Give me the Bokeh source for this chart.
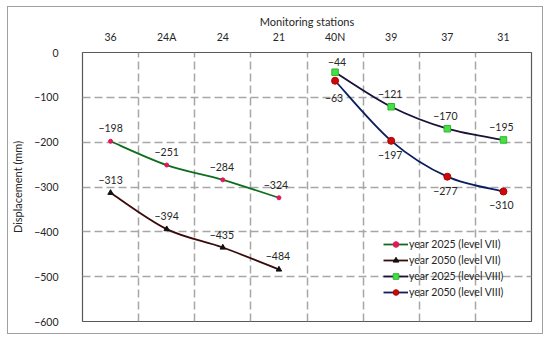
from bokeh.plotting import figure
from bokeh.models import FixedTicker, Range1d, ColumnDataSource, Legend, LegendItem, LabelSet
from bokeh.embed import file_html
from bokeh.resources import INLINE
from bokeh.core.properties import value

# ---- data ----
stations = ["36", "24A", "24", "21", "40N", "39", "37", "31"]
stations_vii = ["36", "24A", "24", "21"]
stations_viii = ["40N", "39", "37", "31"]
y2025_vii = [-198, -251, -284, -324]
y2050_vii = [-313, -394, -435, -484]
y2025_viii = [-44, -121, -170, -195]
y2050_viii = [-63, -197, -277, -310]
y_ticks = [0, -100, -200, -300, -400, -500, -600]

FONT = "Lato"
TXT = "#262626"

p = figure(width=536, height=328, output_backend="svg", toolbar_location=None,
           x_range=Range1d(0, len(stations)), y_range=Range1d(-600, 0),
           x_axis_location="above",
           min_border_left=61, min_border_right=13, min_border_top=45, min_border_bottom=14)
p.styles = {"border": "1px solid #a0a0a0", "margin-left": "7px", "margin-top": "6px"}
p.outline_line_color = "#595959"
p.outline_line_width = 1.2

def xpos(names):
    return [stations.index(n) + 0.5 for n in names]

# axes
xa = p.xaxis[0]
xa.ticker = FixedTicker(ticks=[i + 0.5 for i in range(len(stations))])
xa.major_label_overrides = {i + 0.5: s for i, s in enumerate(stations)}
xa.axis_label = "Monitoring stations"
ya = p.yaxis[0]
ya.ticker = FixedTicker(ticks=y_ticks)
ya.major_label_overrides = {t: (str(t).replace("-", "\u2212")) for t in y_ticks}
ya.axis_label = "Displacement (mm)"
for ax in (xa, ya):
    ax.axis_line_color = None
    ax.major_tick_line_color = None
    ax.minor_tick_line_color = None
    ax.major_label_text_font = FONT
    ax.major_label_text_font_size = "10.5px"
    ax.major_label_text_color = TXT
    ax.axis_label_text_font = FONT
    ax.axis_label_text_font_size = "11px"
    ax.axis_label_text_font_style = "normal"
    ax.axis_label_text_color = TXT
xa.major_label_standoff = 4
xa.axis_label_standoff = 0
ya.major_label_standoff = 18
ya.axis_label_standoff = 7

# grids
p.xgrid.ticker = FixedTicker(ticks=list(range(1, len(stations))))
p.ygrid.ticker = FixedTicker(ticks=y_ticks[1:-1])
for g in (p.xgrid, p.ygrid):
    g.grid_line_color = "#a6a6a6"
    g.grid_line_dash = "8 4"
    g.grid_line_width = 1.5

def smooth(xs, ys):
    n = len(xs)
    P = list(zip(xs, ys))
    d = dict(x0=[], y0=[], x1=[], y1=[], cx0=[], cy0=[], cx1=[], cy1=[])
    for i in range(n - 1):
        pm = P[i - 1] if i > 0 else P[i]
        p0, p1 = P[i], P[i + 1]
        p2 = P[i + 2] if i + 2 < n else P[i + 1]
        d["x0"].append(p0[0]); d["y0"].append(p0[1])
        d["x1"].append(p1[0]); d["y1"].append(p1[1])
        d["cx0"].append(p0[0] + (p1[0] - pm[0]) / 6); d["cy0"].append(p0[1] + (p1[1] - pm[1]) / 6)
        d["cx1"].append(p1[0] - (p2[0] - p0[0]) / 6); d["cy1"].append(p1[1] - (p2[1] - p0[1]) / 6)
    return ColumnDataSource(d)

series = [
    ("year 2025 (level VII)", stations_vii, y2025_vii, "#0f6e1e", "circle", 4, "#e3175a", "#e3175a", [13] * 4),
    ("year 2050 (level VII)", stations_vii, y2050_vii, "#3b0a0a", "triangle", 5.5, "#111111", "#111111", [13] * 4),
    ("year 2025 (level VIII)", stations_viii, y2025_viii, "#1b1238", "square", 6.5, "#44e044", "#2fb52f", [10, 13, 13, 13]),
    ("year 2050 (level VIII)", stations_viii, y2050_viii, "#0b1f5e", "circle", 7, "#cc0a0a", "#b00000", [-17, -14, -14, -14]),
]
label_dx = {"year 2025 (level VII)": [0, 0, -1, -3],
            "year 2050 (level VII)": [0, 0, -1, -1],
            "year 2025 (level VIII)": [2, -1, -2, -2],
            "year 2050 (level VIII)": [-1, -1, -2, -2]}

items = []
for name, sts, ys, lc, mk, ms, fc, ec, dys in series:
    xs = xpos(sts)
    b = p.bezier("x0", "y0", "x1", "y1", "cx0", "cy0", "cx1", "cy1", source=smooth(xs, ys),
                 line_color=lc, line_width=1.8)
    src = ColumnDataSource(dict(x=xs, y=ys, t=[str(v).replace("-", "\u2212") for v in ys],
                                dx=label_dx[name], dy=dys))
    s = p.scatter("x", "y", source=src, marker=mk, size=ms, fill_color=fc, line_color=ec)
    p.add_layout(LabelSet(x="x", y="y", text="t", source=src, x_offset="dx", y_offset="dy",
                          text_align="center", text_baseline="middle",
                          text_font=value(FONT), text_font_size="10.5px", text_color=TXT))
    items.append(LegendItem(label=name, renderers=[b, s]))

legend = Legend(items=items, location=(301, 22), background_fill_alpha=0, border_line_color=None,
                glyph_width=25, glyph_height=14, label_height=14, spacing=2, padding=0, margin=0,
                label_standoff=1, label_text_font=FONT, label_text_font_size="10.5px",
                label_text_color=TXT)
p.add_layout(legend, "center")

open("out.html", "w").write(file_html(p, INLINE))
